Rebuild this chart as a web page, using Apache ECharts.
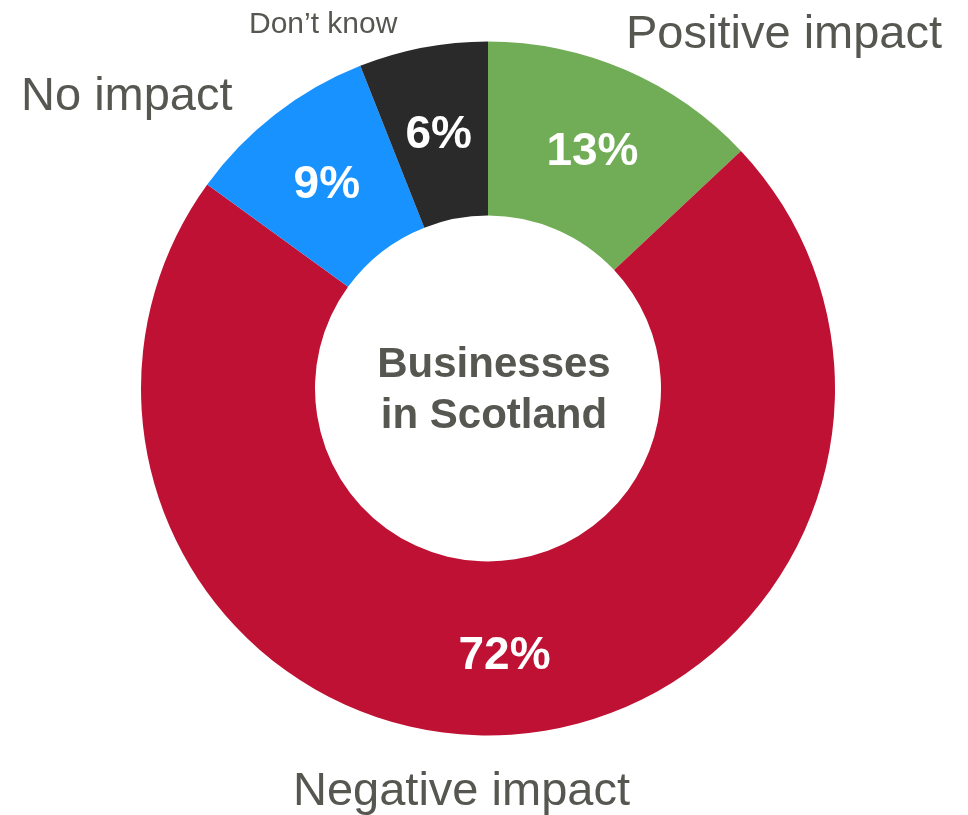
<!DOCTYPE html>
<html>
<head>
<meta charset="utf-8">
<style>
  html, body { margin: 0; padding: 0; background: #ffffff; }
  #chart { width: 968px; height: 815px; }
</style>
<script src="https://cdn.jsdelivr.net/npm/echarts@6/dist/echarts.min.js"></script>
</head>
<body>
<div id="chart"></div>
<script>
// Share of businesses by expected impact (percent), clockwise from 12 o'clock
const categories = ['Positive impact', 'Negative impact', 'No impact', 'Don\u2019t know'];
const values = [13, 72, 9, 6];
const sliceColors = ['#71AD56', '#BE1133', '#1892FF', '#2A2A2A'];
const centerLines = ['Businesses', 'in Scotland'];

const textGray = '#575751';
const fontFamily = 'Liberation Sans, Arial, sans-serif';

// Category captions placed around the ring
const captionLayout = [
  { x: 626, y: 35, size: 47 },   // Positive impact
  { x: 293, y: 792, size: 47 },  // Negative impact
  { x: 21, y: 97, size: 47 },    // No impact
  { x: 249, y: 25, size: 30 }    // Don't know
];

const chart = echarts.init(document.getElementById('chart'), null, { renderer: 'canvas' });

chart.setOption({
  backgroundColor: '#ffffff',
  animation: false,
  series: [{
    type: 'pie',
    center: [488, 388.5],
    radius: [173, 347],
    startAngle: 90,
    clockwise: true,
    avoidLabelOverlap: false,
    silent: true,
    itemStyle: { borderWidth: 0 },
    label: {
      show: true,
      position: 'inside',
      offset: [0, 5],
      formatter: p => p.value + '%',
      color: '#ffffff',
      fontFamily: fontFamily,
      fontWeight: 'bold',
      fontSize: 46
    },
    labelLine: { show: false },
    data: categories.map((name, i) => ({
      name: name,
      value: values[i],
      itemStyle: { color: sliceColors[i] }
    }))
  }],
  graphic: [
    ...categories.map((name, i) => ({
      type: 'text',
      left: captionLayout[i].x,
      y: captionLayout[i].y,
      style: {
        text: name,
        fill: textGray,
        font: captionLayout[i].size + 'px ' + fontFamily,
        verticalAlign: 'middle'
      }
    })),
    {
      type: 'text',
      x: 494,
      y: 391,
      style: {
        text: centerLines.join('\n'),
        fill: textGray,
        font: 'bold 42px ' + fontFamily,
        align: 'center',
        verticalAlign: 'middle',
        lineHeight: 51
      }
    }
  ]
});
</script>
</body>
</html>
